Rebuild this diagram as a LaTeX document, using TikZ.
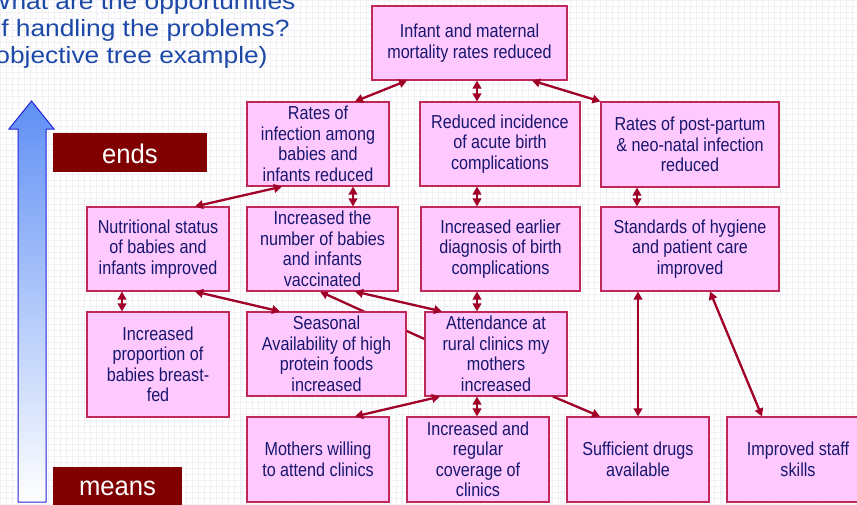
\documentclass[tikz,border=0pt]{standalone}
\usepackage{fontspec}
\setmainfont{Liberation Sans}
\newfontfamily\boxfont[FakeStretch=0.86]{Liberation Sans}
\newfontfamily\titlefont[FakeStretch=1.12]{Liberation Sans}
\newfontfamily\tagfont[FakeStretch=0.95]{Liberation Sans}
\usetikzlibrary{arrows.meta,calc}

\definecolor{boxfill}{HTML}{FFC8FF}
\definecolor{boxline}{HTML}{C02858}
\definecolor{boxtext}{HTML}{17176E}
\definecolor{linkred}{HTML}{A00028}
\definecolor{titleblue}{HTML}{1C48A8}
\definecolor{tagred}{HTML}{800000}
\definecolor{gridgray}{HTML}{F0F0F5}
\definecolor{arrowblue}{HTML}{5F8FF5}
\definecolor{arrowedge}{HTML}{2424D8}

\pgfdeclarelayer{bg}
\pgfsetlayers{bg,main}

\begin{document}
\begin{tikzpicture}[x=1pt,y=-1pt,
  goal/.style={draw=boxline, line width=1.1pt, fill=boxfill, text=boxtext,
    inner sep=0pt, align=center, font=\boxfont\fontsize{18.8}{20.5}\selectfont},
  twoway/.style={draw=linkred, line width=2.3pt,
    {Triangle[length=8pt,width=8.5pt]}-{Triangle[length=8pt,width=8.5pt]}},
  oneway/.style={draw=linkred, line width=2.3pt,
    -{Triangle[length=8pt,width=8.5pt]}},
  tag/.style={fill=tagred, text=white, inner sep=0pt,
    font=\tagfont\fontsize{27}{30}\selectfont},
  headline/.style={text=titleblue, inner sep=0pt, anchor=base west,
    font=\titlefont\fontsize{23.5}{27}\selectfont}
]
\useasboundingbox (0,0) rectangle (857,504);

% faint squared paper behind everything
\begin{pgfonlayer}{bg}
  \fill[white] (0,0) rectangle (857,504);
  \draw[gridgray, line width=0.5pt, step=6pt] (0,0) grid (857,504);
\end{pgfonlayer}

% heading
\node[headline] (h1) at (-13.5,9)  {What are the opportunities};
\node[headline] (h2) at (-13.5,36) {of handling the problems?};
\node[headline] (h3) at (-13.5,63) {(objective tree example)};

% means-to-ends arrow
\path[top color=arrowblue, bottom color=white, draw=arrowedge, line width=1pt]
  (18,502) -- (18,129) -- (9,129) -- (31.5,101) -- (54,129) -- (46,129)
  -- (46,502) -- cycle;
\node[tag, minimum width=154pt, minimum height=39pt, text height=21pt, text depth=0pt]
  (ends) at (130,152.5) {ends};
\node[tag, minimum width=129pt, minimum height=40pt, text height=16pt, text depth=0pt]
  (means) at (117.5,487) {means};

% objectives
\node[goal, minimum width=195pt, minimum height=74pt] (top) at (469.5,43)
  {Infant and maternal\\mortality rates reduced};

\node[goal, minimum width=142pt, minimum height=84pt] (inf) at (318,144)
  {Rates of\\infection among\\babies and\\infants reduced};
\node[goal, minimum width=160pt, minimum height=84pt] (inc) at (500,144)
  {Reduced incidence\\of acute birth\\complications};
\node[goal, minimum width=178pt, minimum height=85pt] (pp) at (690,144.5)
  {Rates of post-partum\\\& neo-natal infection\\reduced};

\node[goal, minimum width=142pt, minimum height=84pt] (nut) at (158,249)
  {Nutritional status\\of babies and\\infants improved};
\node[goal, minimum width=151pt, minimum height=84pt] (vac) at (322.5,249)
  {Increased the\\number of babies\\and infants\\vaccinated};
\node[goal, minimum width=159pt, minimum height=84pt] (diag) at (500.5,249)
  {Increased earlier\\diagnosis of birth\\complications};
\node[goal, minimum width=178pt, minimum height=84pt] (hyg) at (690,249)
  {Standards of hygiene\\and patient care\\improved};

\node[goal, minimum width=142pt, minimum height=105pt] (bf) at (158,364.5)
  {Increased\\proportion of\\babies breast-\\fed};
\node[goal, minimum width=159pt, minimum height=84pt] (sea) at (326.5,354)
  {Seasonal\\Availability of high\\protein foods\\increased};
\node[goal, minimum width=142pt, minimum height=84pt] (att) at (496,354)
  {Attendance at\\rural clinics my\\mothers\\increased};

\node[goal, minimum width=142pt, minimum height=85pt] (mw) at (318,459.5)
  {Mothers willing\\to attend clinics};
\node[goal, minimum width=142pt, minimum height=85pt] (cov) at (478,459.5)
  {Increased and\\regular\\coverage of\\clinics};
\node[goal, minimum width=142pt, minimum height=85pt] (drugs) at (638,459.5)
  {Sufficient drugs\\available};
\node[goal, minimum width=142pt, minimum height=85pt] (staff) at (798,459.5)
  {Improved staff\\skills};

% link running behind the seasonal-foods box
\begin{pgfonlayer}{bg}
  \draw[oneway] ([yshift=15pt]att.west) -- ([xshift=-2.5pt]vac.south);
\end{pgfonlayer}

% links between objectives
\draw[twoway] ([xshift=-62.5pt]top.south) -- ([xshift=37pt]inf.north);
\draw[twoway] ([xshift=7.5pt]top.south) -- ([xshift=-23pt]inc.north);
\draw[twoway] ([xshift=62.5pt]top.south) -- (pp.north west);

\draw[twoway] ([xshift=-36pt]inf.south) -- ([xshift=37pt]nut.north);
\draw[twoway] ([xshift=35pt]inf.south) -- ([xshift=30.5pt]vac.north);
\draw[twoway] ([xshift=-23pt]inc.south) -- ([xshift=-23.5pt]diag.north);
\draw[twoway] ([xshift=-53pt]pp.south) -- ([xshift=-53pt]hyg.north);

\draw[twoway] ([xshift=-36pt]nut.south) -- ([xshift=-36pt]bf.north);
\draw[twoway] ([xshift=37pt]nut.south) -- ([xshift=-46.5pt]sea.north);
\draw[twoway] ([xshift=32.5pt]vac.south) -- ([xshift=-54pt]att.north);
\draw[twoway] ([xshift=-23.5pt]diag.south) -- ([xshift=-19pt]att.north);

\draw[twoway] ([xshift=-56pt]att.south) -- ([xshift=37pt]mw.north);
\draw[twoway] ([xshift=-19pt]att.south) -- ([xshift=-1pt]cov.north);
\draw[oneway] ([xshift=57pt]att.south) -- ([xshift=-38pt]drugs.north);

\draw[twoway] ([xshift=-52pt]hyg.south) -- (drugs.north);
\draw[twoway] ([xshift=20pt]hyg.south) -- ([xshift=-36pt]staff.north);
\end{tikzpicture}
\end{document}
